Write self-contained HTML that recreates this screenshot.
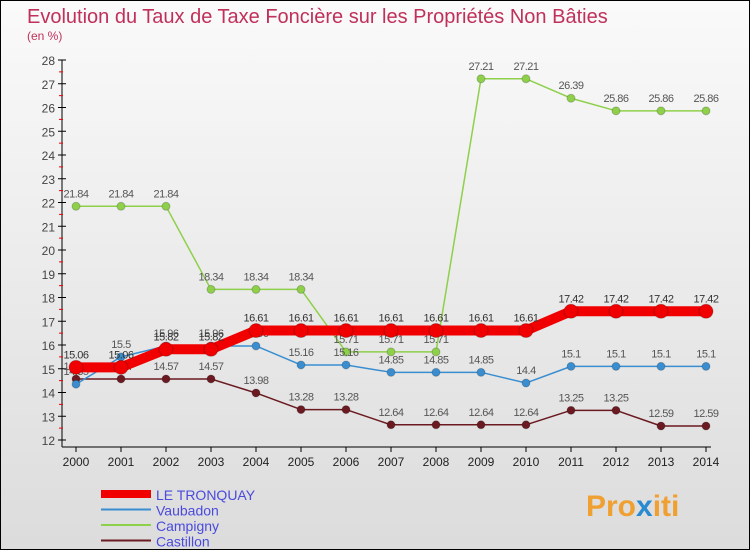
<!DOCTYPE html>
<html><head><meta charset="utf-8"><style>
body{margin:0;width:750px;height:550px;overflow:hidden;font-family:"Liberation Sans",sans-serif}
#c{position:absolute;left:0;top:0;width:748px;height:548px;border:1px solid #000;background:linear-gradient(#fafafa,#dcdcdc)}
</style></head><body>
<div id="c">
<svg id="s" width="748" height="548" xmlns="http://www.w3.org/2000/svg">
<text x="26" y="22" font-size="20" fill="#c0305a">Evolution du Taux de Taxe Foncière sur les Propriétés Non Bâties</text>
<text x="26" y="39" font-size="12" fill="#c0305a">(en %)</text>
<text x="585" y="515" font-size="30" font-weight="bold" fill="#f0a030">Pro<tspan fill="#2a8ad0">x</tspan>iti</text>
</svg></div>
<script>
const years=[2000,2001,2002,2003,2004,2005,2006,2007,2008,2009,2010,2011,2012,2013,2014];
const yTicks=[12,13,14,15,16,17,18,19,20,21,22,23,24,25,26,27,28];
const tronquay=[15.06,15.06,15.82,15.82,16.61,16.61,16.61,16.61,16.61,16.61,16.61,17.42,17.42,17.42,17.42];
const vaubadon=[14.35,15.5,15.96,15.96,15.96,15.16,15.16,14.85,14.85,14.85,14.4,15.1,15.1,15.1,15.1];
const campigny=[21.84,21.84,21.84,18.34,18.34,18.34,15.71,15.71,15.71,27.21,27.21,26.39,25.86,25.86,25.86];
const castillon=[14.57,14.57,14.57,14.57,13.98,13.28,13.28,12.64,12.64,12.64,12.64,13.25,13.25,12.59,12.59];
const s=document.getElementById('s'),NS='http://www.w3.org/2000/svg';
const X=i=>75+i*45, Y=v=>439-(v-12)*23.75;
function mk(t,a,p){const e=document.createElementNS(NS,t);for(const k in a)e.setAttribute(k,a[k]);(p||s).appendChild(e);return e;}
const ax=mk('line',{x1:61,y1:59,x2:61,y2:446,stroke:'#000'});


const xa=mk('line',{x1:61,y1:446,x2:710,y2:446,stroke:'#000'});


yTicks.forEach(v=>{mk('line',{x1:57,y1:Y(v),x2:65,y2:Y(v),stroke:'#000'});
if(v<28)mk('line',{x1:58,y1:Y(v+0.5),x2:62,y2:Y(v+0.5),stroke:'#e00'});
const t=mk('text',{x:54,y:Y(v)+5,'font-size':12,fill:'#444','text-anchor':'end'});t.textContent=v;

});
years.forEach((y,i)=>{mk('line',{x1:X(i),y1:446,x2:X(i),y2:451,stroke:'#000'});
const t=mk('text',{x:X(i),y:465,'font-size':12,fill:'#222','text-anchor':'middle'});t.textContent=y;

});
const series=[
{n:'campigny',d:campigny,c:'#8ed04a',w:1.5,r:4,lc:'#555',lbl:'Campigny'},
{n:'castillon',d:castillon,c:'#6a1a20',w:1.5,r:4,lc:'#555',lbl:'Castillon'},
{n:'vaubadon',d:vaubadon,c:'#3a8ed0',w:1.5,r:4,lc:'#555',lbl:'Vaubadon'},
{n:'le-tronquay',d:tronquay,c:'#f00000',w:10,r:7,lc:'#333',lbl:'LE TRONQUAY'}];
series.forEach(o=>{const g=mk('g',{});


mk('polyline',{points:o.d.map((v,i)=>X(i)+','+Y(v)).join(' '),fill:'none',stroke:o.c,'stroke-width':o.w,'stroke-linejoin':'round'},g);
o.d.forEach((v,i)=>{const c=mk('circle',{cx:X(i),cy:Y(v),r:o.r,fill:o.c,stroke:'#0003'},g);


const t=mk('text',{x:X(i),y:Y(v)-9,'font-size':11,fill:o.lc,'text-anchor':'middle','letter-spacing':'-0.5'},g);t.textContent=v;

});});
const leg=[['LE TRONQUAY','#f00000',8],['Vaubadon','#3a8ed0',2],['Campigny','#8ed04a',2],['Castillon','#6a1a20',2]];
leg.forEach((l,i)=>{const y=493+i*15.5;const g=mk('g',{});


mk('line',{x1:100,y1:y,x2:150,y2:y,stroke:l[1],'stroke-width':l[2]},g);
const t=mk('text',{x:155,y:y+6,'font-size':14,fill:'#4a4adf'},g);t.textContent=l[0];});
</script></body></html>
